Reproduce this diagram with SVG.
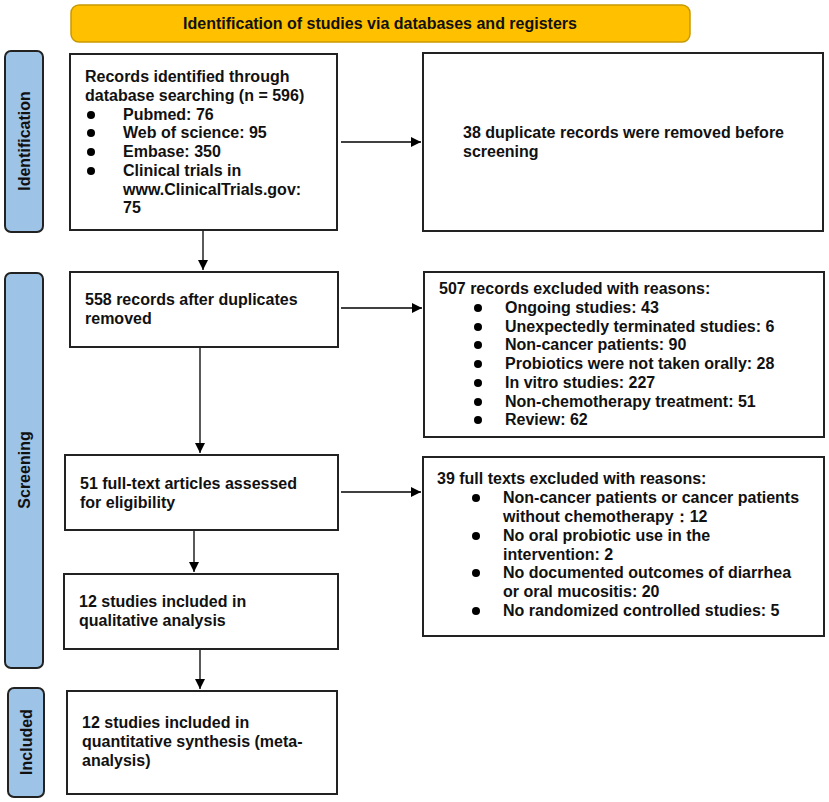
<svg xmlns="http://www.w3.org/2000/svg" width="829" height="802" viewBox="0 0 829 802">
<defs>
<marker id="ah" markerWidth="10" markerHeight="10" refX="10" refY="5" orient="auto" markerUnits="userSpaceOnUse">
<path d="M0,0 L10,5 L0,10 Z" fill="#000"/>
</marker>
<style>
.box{fill:#fff;stroke:#222;stroke-width:2}
.side{fill:#9DC3E6;stroke:#222;stroke-width:2}
.t{font-family:"Liberation Sans",Arial,sans-serif;font-weight:bold;font-size:16px;fill:#111}
.b{fill:#000}
.c{fill:none;stroke:#000;stroke-width:1.3;marker-end:url(#ah)}
</style>
</defs>
<rect width="829" height="802" fill="#fff"/>
<g id="banner">
<rect x="71" y="5" width="619" height="37" rx="8" fill="#FFC000" stroke="#C99A00" stroke-width="1.5"/>
<text class="t" x="380" y="29" text-anchor="middle" font-size="15">Identification of studies via databases and registers</text>
</g>
<g id="side-identification">
<rect class="side" x="5" y="51" width="38" height="181" rx="6"/>
<text class="t" transform="translate(30,141) rotate(-90)" text-anchor="middle">Identification</text>
</g>
<g id="side-screening">
<rect class="side" x="5" y="273" width="38" height="395" rx="6"/>
<text class="t" transform="translate(30,470) rotate(-90)" text-anchor="middle">Screening</text>
</g>
<g id="side-included">
<rect class="side" x="8" y="688" width="36" height="109" rx="6"/>
<text class="t" transform="translate(32,742) rotate(-90)" text-anchor="middle">Included</text>
</g>
<g id="box1">
<rect class="box" x="70" y="54" width="267" height="176"/>
<text class="t" x="85" y="82">Records identified through</text>
<text class="t" x="85" y="101">database searching (n = 596)</text>
<circle class="b" cx="91" cy="115" r="4"/><text class="t" x="123" y="120">Pubmed: 76</text>
<circle class="b" cx="91" cy="133" r="4"/><text class="t" x="123" y="138">Web of science: 95</text>
<circle class="b" cx="91" cy="152" r="4"/><text class="t" x="123" y="157">Embase: 350</text>
<circle class="b" cx="91" cy="171" r="4"/><text class="t" x="123" y="176">Clinical trials in</text>
<text class="t" x="123" y="195">www.ClinicalTrials.gov:</text>
<text class="t" x="123" y="213">75</text>
</g>
<g id="box2">
<rect class="box" x="423" y="53" width="400" height="178"/>
<text class="t" x="463" y="138">38 duplicate records were removed before</text>
<text class="t" x="463" y="157">screening</text>
</g>
<g id="box3">
<rect class="box" x="70" y="272" width="268" height="75"/>
<text class="t" x="85" y="305">558 records after duplicates</text>
<text class="t" x="85" y="324">removed</text>
</g>
<g id="box4">
<rect class="box" x="424" y="272" width="400" height="165"/>
<text class="t" x="439" y="294">507 records excluded with reasons:</text>
<circle class="b" cx="478" cy="308" r="4"/><text class="t" x="505" y="313">Ongoing studies: 43</text>
<circle class="b" cx="478" cy="327" r="4"/><text class="t" x="505" y="332">Unexpectedly terminated studies: 6</text>
<circle class="b" cx="478" cy="345" r="4"/><text class="t" x="505" y="350">Non-cancer patients: 90</text>
<circle class="b" cx="478" cy="364" r="4"/><text class="t" x="505" y="369">Probiotics were not taken orally: 28</text>
<circle class="b" cx="478" cy="383" r="4"/><text class="t" x="505" y="388">In vitro studies: 227</text>
<circle class="b" cx="478" cy="402" r="4"/><text class="t" x="505" y="407">Non-chemotherapy treatment: 51</text>
<circle class="b" cx="478" cy="420" r="4"/><text class="t" x="505" y="425">Review: 62</text>
</g>
<g id="box5">
<rect class="box" x="65" y="455" width="273" height="75"/>
<text class="t" x="80" y="489">51 full-text articles assessed</text>
<text class="t" x="80" y="508">for eligibility</text>
</g>
<g id="box6">
<rect class="box" x="423" y="457" width="401" height="179"/>
<text class="t" x="437" y="484">39 full texts excluded with reasons:</text>
<circle class="b" cx="476" cy="498" r="4"/><text class="t" x="503" y="503">Non-cancer patients or cancer patients</text>
<text class="t" x="503" y="522">without chemotherapy：12</text>
<circle class="b" cx="476" cy="536" r="4"/><text class="t" x="503" y="541">No oral probiotic use in the</text>
<text class="t" x="503" y="560">intervention: 2</text>
<circle class="b" cx="476" cy="573" r="4"/><text class="t" x="503" y="578">No documented outcomes of diarrhea</text>
<text class="t" x="503" y="597">or oral mucositis: 20</text>
<circle class="b" cx="476" cy="611" r="4"/><text class="t" x="503" y="616">No randomized controlled studies: 5</text>
</g>
<g id="box7">
<rect class="box" x="64" y="574" width="274" height="75"/>
<text class="t" x="79" y="607">12 studies included in</text>
<text class="t" x="79" y="626">qualitative analysis</text>
</g>
<g id="box8">
<rect class="box" x="67" y="691" width="270" height="103"/>
<text class="t" x="82" y="728">12 studies included in</text>
<text class="t" x="82" y="747">quantitative synthesis (meta-</text>
<text class="t" x="82" y="766">analysis)</text>
</g>
<g id="connectors">
<path class="c" d="M341,142 L421,142"/>
<path class="c" d="M203,231 L203,270"/>
<path class="c" d="M341,308 L422,308"/>
<path class="c" d="M200,348 L200,453"/>
<path class="c" d="M341,492 L421,492"/>
<path class="c" d="M194,531 L194,572"/>
<path class="c" d="M200,650 L200,689"/>
</g>
</svg>
